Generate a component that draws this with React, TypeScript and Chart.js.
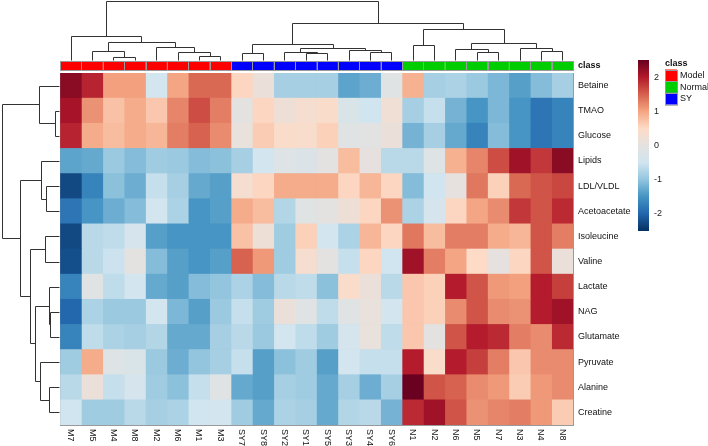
import React, { useEffect, useRef } from "react";
import { Chart, registerables } from "chart.js";

Chart.register(...registerables);

const FONT = "'Liberation Sans', Arial, Helvetica, sans-serif";

const columns = ["M7", "M5", "M4", "M8", "M2", "M6", "M1", "M3", "SY7", "SY8", "SY2", "SY1", "SY5", "SY3", "SY4", "SY6", "N1", "N2", "N6", "N5", "N7", "N3", "N4", "N8"];
const columnClass = ["Model", "Model", "Model", "Model", "Model", "Model", "Model", "Model", "SY", "SY", "SY", "SY", "SY", "SY", "SY", "SY", "Normal", "Normal", "Normal", "Normal", "Normal", "Normal", "Normal", "Normal"];
const rowNames = ["Betaine", "TMAO", "Glucose", "Lipids", "LDL/VLDL", "Acetoacetate", "Isoleucine", "Valine", "Lactate", "NAG", "Glutamate", "Pyruvate", "Alanine", "Creatine"];

const betaine = [2.3, 1.95, 1.05, 1.05, -0.45, 1.0, 1.45, 1.45, 0.55, 0.15, -0.85, -0.85, -0.85, -1.35, -1.25, -0.1, 0.9, -0.85, -0.8, -0.95, -1.15, -1.4, -1.1, -0.85];
const tmao = [2.1, 1.15, 0.75, 0.95, 0.7, 1.25, 1.65, 1.3, 0.0, 0.55, 0.2, 0.35, 0.45, -0.3, -0.5, 0.25, -0.85, -0.6, -1.2, -1.5, -1.15, -1.5, -1.85, -1.7];
const glucose = [1.95, 0.95, 0.8, 0.95, 0.85, 1.3, 1.5, 1.2, 0.1, 0.65, 0.45, 0.4, 0.6, -0.1, -0.05, 0.15, -1.2, -0.85, -1.3, -1.7, -1.1, -1.5, -1.85, -1.7];
const lipids = [-1.35, -1.3, -0.95, -1.1, -0.9, -0.95, -1.1, -1.05, -0.85, -0.45, -0.15, -0.25, 0.0, 0.8, 0.05, -0.7, -0.7, -0.15, 0.9, 1.25, 1.65, 2.15, 1.8, 2.3];
const ldlVldl = [-2.3, -1.7, -1.05, -1.25, -0.6, -0.85, -1.3, -1.4, 0.35, 0.55, 0.95, 0.95, 0.95, 0.55, 0.85, 0.55, -1.1, -0.5, 0.05, 1.35, 0.6, 1.45, 1.6, 1.7];
const acetoacetate = [-1.85, -1.5, -1.25, -1.1, -0.45, -0.8, -1.5, -1.4, 0.95, 0.8, -0.75, -0.1, 0.0, 0.2, 0.55, 1.15, -0.8, -0.4, 0.55, 1.0, 1.2, 1.8, 1.6, 1.9];
const isoleucine = [-2.3, -0.7, -0.65, -0.4, -1.4, -1.5, -1.5, -1.5, 0.75, 0.2, -0.9, 0.6, -0.45, -0.8, 0.85, 0.55, 1.35, 0.8, 1.3, 1.3, 0.95, 0.85, 1.6, 1.3];
const valine = [-2.25, -0.7, -0.55, 0.0, -1.1, -1.4, -1.5, -1.4, 1.5, 1.1, -0.9, 0.35, 0.0, -0.6, 0.55, -0.5, 2.15, 1.3, 1.0, 0.5, 0.05, 0.55, 1.6, 0.15];
const lactate = [-1.7, -0.1, -0.65, -0.45, -1.3, -1.4, -1.1, -1.0, -0.8, -1.1, -0.7, -0.65, -1.05, 0.45, 0.15, -0.7, 0.7, 0.6, 2.0, 1.6, 1.1, 1.05, 2.0, 1.75];
const nag = [-2.0, -0.8, -0.95, -0.95, -0.45, -1.15, -1.4, -0.95, -0.6, -0.9, 0.15, -0.1, -0.65, -0.1, 0.1, -0.45, 0.7, 0.6, 1.2, 1.6, 1.2, 1.15, 2.0, 2.15];
const glutamate = [-1.7, -0.65, -0.8, -0.85, -0.75, -1.3, -1.3, -0.85, -0.7, -0.95, -0.45, -0.65, -0.9, -0.4, 0.1, -0.65, 0.7, 0.0, 1.6, 2.0, 1.9, 1.3, 1.2, 1.9];
const pyruvate = [-0.9, 0.95, -0.15, -0.3, -0.95, -1.25, -1.0, -0.85, -0.6, -1.4, -1.05, -0.9, -1.4, -0.45, -0.6, -0.6, 2.0, 0.45, 2.0, 1.75, 1.3, 0.7, 1.2, 1.2];
const alanine = [-0.7, 0.15, -0.6, -0.4, -0.9, -1.05, -0.6, -0.1, -1.3, -1.4, -0.85, -0.9, -1.3, -0.85, -1.25, -0.85, 2.5, 1.6, 1.5, 1.2, 1.1, 0.65, 1.1, 1.2];
const creatine = [-0.5, -0.9, -0.9, -0.7, -0.85, -0.8, -0.5, -0.45, -0.9, -1.3, -0.8, -0.85, -1.3, -0.75, -0.7, -1.2, 1.9, 2.15, 1.6, 1.15, 1.25, 1.3, 1.1, 0.65];

const cellValues = [betaine, tmao, glucose, lipids, ldlVldl, acetoacetate, isoleucine, valine, lactate, nag, glutamate, pyruvate, alanine, creatine];

// hclust-style merges: negative = leaf (1-based), positive = earlier merge (1-based); third = height
const columnMerges: number[][] = [
  [-3, -4, 3.3], [-2, 1, 9], [-7, -8, 4.3], [-6, 3, 7.7], [-5, 4, 13.3], [2, 5, 18], [-1, 6, 24],
  [-9, -10, 7.3], [-12, -13, 6.7], [-11, 9, 8.3], [-15, -16, 8.3], [-14, 11, 10], [10, 12, 11.7], [8, 13, 16],
  [-17, -18, 15], [-20, -21, 7.7], [-19, 16, 10.7], [-23, -24, 9], [-22, 18, 11.7], [17, 19, 16.7], [15, 20, 30.7],
  [14, 21, 37.3], [7, 22, 59],
];
const rowMerges: number[][] = [
  [-2, -3, 4.3], [-1, 1, 20], [-5, -6, 13.3], [-4, 3, 17.6], [-7, -8, 14.3], [-10, -11, 8.6], [-9, 6, 10.3],
  [-13, -14, 10.3], [-12, 8, 18.6], [7, 9, 23.6], [5, 10, 29.3], [4, 11, 39.3], [2, 12, 57.6],
];

const legendClasses = ["Model", "Normal", "SY"];
const classColors: Record<string, string> = { Model: "#FF0000", Normal: "#00CD00", SY: "#0000FF" };
const colorbarTicks = [2, 1, 0, -1, -2];
const VMIN = -2.53;
const VMAX = 2.53;
const palette = ["#053061", "#2166AC", "#4393C3", "#92C5DE", "#D1E5F0", "#E4E2E0", "#FDDBC7", "#F4A582", "#D6604D", "#B2182B", "#67001F"];

function hexToRgb(h: string) {
  return [parseInt(h.slice(1, 3), 16), parseInt(h.slice(3, 5), 16), parseInt(h.slice(5, 7), 16)];
}
const paletteRgb = palette.map(hexToRgb);

function colorFor(v: number) {
  let t = (v - VMIN) / (VMAX - VMIN);
  t = Math.max(0, Math.min(1, t));
  const pos = t * (paletteRgb.length - 1);
  const i = Math.min(paletteRgb.length - 2, Math.floor(pos));
  const f = pos - i;
  const a = paletteRgb[i];
  const b = paletteRgb[i + 1];
  const c = a.map((x, k) => Math.round(x + (b[k] - x) * f));
  return `rgb(${c[0]},${c[1]},${c[2]})`;
}

function drawDendro(ctx: CanvasRenderingContext2D, merges: number[][], leafPos: (i: number) => number, base: number, scale: number, vertical: boolean) {
  const pos: number[] = [];
  const hts: number[] = [];
  const get = (r: number) => (r < 0 ? { p: leafPos(-r - 1), h: 0 } : { p: pos[r - 1], h: hts[r - 1] });
  ctx.save();
  ctx.strokeStyle = "#333333";
  ctx.lineWidth = 1;
  merges.forEach(([a, b, h], k) => {
    const A = get(a);
    const B = get(b);
    const q = (hh: number) => Math.round(base - hh * scale) + 0.5;
    const pa = Math.round(A.p) + 0.5;
    const pb = Math.round(B.p) + 0.5;
    ctx.beginPath();
    if (vertical) {
      ctx.moveTo(pa, q(A.h));
      ctx.lineTo(pa, q(h));
      ctx.lineTo(pb, q(h));
      ctx.lineTo(pb, q(B.h));
    } else {
      ctx.moveTo(q(A.h), pa);
      ctx.lineTo(q(h), pa);
      ctx.lineTo(q(h), pb);
      ctx.lineTo(q(B.h), pb);
    }
    ctx.stroke();
    pos[k] = (A.p + B.p) / 2;
    hts[k] = h;
  });
  ctx.restore();
}

const decorPlugin = {
  id: "heatDecor",
  afterDraw(chart: any) {
    const ctx: CanvasRenderingContext2D = chart.ctx;
    const area = chart.chartArea;
    const xs = chart.scales.x;
    const ys = chart.scales.y;

    // annotation bar
    const annTop = area.top - 12;
    const annH = 9;
    ctx.save();
    columns.forEach((c, j) => {
      const x0 = xs.getPixelForValue(j);
      const x1 = xs.getPixelForValue(j + 1);
      ctx.fillStyle = classColors[columnClass[j]];
      ctx.fillRect(x0, annTop, x1 - x0, annH);
    });
    ctx.strokeStyle = "#9a9a9a";
    ctx.lineWidth = 1;
    columns.forEach((c, j) => {
      const x0 = Math.round(xs.getPixelForValue(j)) + 0.5;
      const x1 = Math.round(xs.getPixelForValue(j + 1)) + 0.5;
      ctx.strokeRect(x0, annTop + 0.5, x1 - x0, annH);
    });
    ctx.fillStyle = "#111";
    ctx.font = `bold 9px ${FONT}`;
    ctx.textAlign = "left";
    ctx.textBaseline = "middle";
    ctx.fillText("class", area.right + 5, annTop + annH / 2 + 0.5);

    // column labels
    ctx.font = `9px ${FONT}`;
    columns.forEach((c, j) => {
      const x = xs.getPixelForValue(j + 0.5);
      ctx.save();
      ctx.translate(x, area.bottom + 4);
      ctx.rotate(Math.PI / 2);
      ctx.textAlign = "left";
      ctx.textBaseline = "middle";
      ctx.fillText(c, 0, 0);
      ctx.restore();
    });
    ctx.restore();

    // dendrograms
    const colBase = annTop - 1;
    const colMax = Math.max(...columnMerges.map((m) => m[2]));
    drawDendro(ctx, columnMerges, (i) => xs.getPixelForValue(i + 0.5), colBase, (colBase - 1) / colMax, true);
    const rowBase = area.left - 1;
    const rowMax = Math.max(...rowMerges.map((m) => m[2]));
    drawDendro(ctx, rowMerges, (i) => ys.getPixelForValue(i), rowBase, (rowBase - 1.5) / rowMax, false);

    // colour bar
    const cbX = 638;
    const cbW = 11;
    const cbTop = 60;
    const cbBot = 231;
    ctx.save();
    const g = ctx.createLinearGradient(0, cbBot, 0, cbTop);
    palette.forEach((p, i) => g.addColorStop(i / (palette.length - 1), p));
    ctx.fillStyle = g;
    ctx.fillRect(cbX, cbTop, cbW, cbBot - cbTop);
    ctx.fillStyle = "#222";
    ctx.font = `9px ${FONT}`;
    ctx.textAlign = "left";
    ctx.textBaseline = "middle";
    colorbarTicks.forEach((t) => {
      const y = cbBot - ((t - VMIN) / (VMAX - VMIN)) * (cbBot - cbTop);
      ctx.fillText(String(t), cbX + 16, y);
    });

    // class legend
    const lx = 665;
    ctx.font = `bold 9px ${FONT}`;
    ctx.fillStyle = "#111";
    ctx.fillText("class", lx, 63.5);
    ctx.font = `9px ${FONT}`;
    legendClasses.forEach((c, k) => {
      const y = 69.5 + k * 11.7;
      ctx.fillStyle = classColors[c];
      ctx.fillRect(lx, y, 12, 11.7);
      ctx.strokeStyle = "#9a9a9a";
      ctx.lineWidth = 1;
      ctx.strokeRect(lx + 0.5, Math.round(y) + 0.5, 12, 11.7);
      ctx.fillStyle = "#111";
      ctx.fillText(c, lx + 15, y + 6);
    });
    ctx.restore();
  },
};

export default function App() {
  const ref = useRef<HTMLCanvasElement | null>(null);
  useEffect(() => {
    if (!ref.current) return;
    Chart.defaults.font.family = FONT;
    const datasets = columns.map((c, j) => ({
      label: c,
      data: rowNames.map(() => [j, j + 1]),
      backgroundColor: rowNames.map((_, i) => colorFor(cellValues[i][j])),
      borderWidth: 0,
      grouped: false,
      barPercentage: 1,
      categoryPercentage: 1,
    }));
    const chart = new Chart(ref.current, {
      type: "bar",
      data: { labels: rowNames, datasets: datasets as any },
      options: {
        indexAxis: "y",
        responsive: false,
        animation: false,
        layout: { padding: { left: 60, top: 73, right: 0, bottom: 0 } },
        plugins: { legend: { display: false }, tooltip: { enabled: false } },
        scales: {
          x: {
            type: "linear",
            position: "bottom",
            min: 0,
            max: 24,
            z: 1,
            ticks: { display: false, stepSize: 1, autoSkip: false },
            grid: { color: "#9a9a9a", lineWidth: 1, drawTicks: false },
            border: { display: true, color: "#9a9a9a" },
            afterFit: (s: any) => {
              s.height = 21;
            },
          },
          y: {
            type: "category",
            position: "right",
            offset: true,
            z: 1,
            grid: { offset: true, color: "#9a9a9a", lineWidth: 1, drawTicks: false },
            border: { display: true, color: "#9a9a9a" },
            ticks: { color: "#111", font: { family: FONT, size: 9 }, padding: 5, autoSkip: false },
            afterFit: (s: any) => {
              s.width = 135;
            },
          },
        },
      } as any,
      plugins: [decorPlugin],
    });
    return () => chart.destroy();
  }, []);
  return (
    <div style={{ position: "absolute", left: 0, top: 0, width: 708, height: 446, background: "#fff" }}>
      <canvas ref={ref} width={708} height={446} style={{ display: "block" }} />
    </div>
  );
}
